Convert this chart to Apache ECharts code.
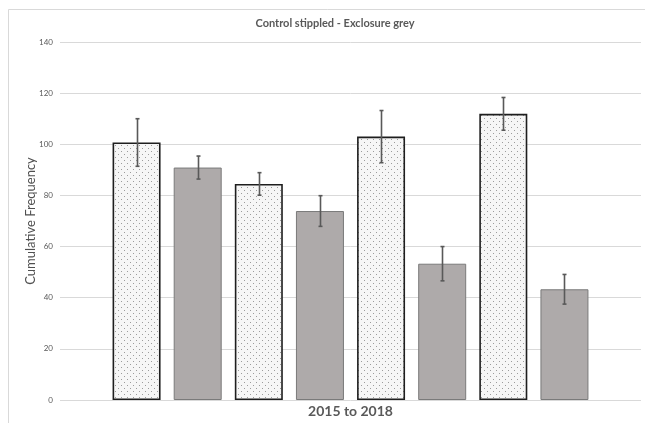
<!DOCTYPE html>
<html>
<head>
<meta charset="utf-8">
<script src="https://cdn.jsdelivr.net/npm/echarts@6/dist/echarts.min.js"></script>
<style>
  html, body { margin: 0; padding: 0; background: #ffffff; }
  #chart { width: 645px; height: 423px; }
</style>
</head>
<body>
<div id="chart"></div>
<script>
// Cumulative frequency per year, control plots vs. exclosure plots
const groupLabel = ['2015 to 2018'];
const barNames = [
  'Control 2015', 'Exclosure 2015',
  'Control 2016', 'Exclosure 2016',
  'Control 2017', 'Exclosure 2017',
  'Control 2018', 'Exclosure 2018'
];
const barKinds = ['control', 'exclosure', 'control', 'exclosure', 'control', 'exclosure', 'control', 'exclosure'];
const barValues = [100.7, 90.9, 84.5, 73.9, 103.0, 53.3, 111.9, 43.3];
const barErrors = [9.3, 4.5, 4.4, 6.0, 10.2, 6.7, 6.4, 5.8];
const yTicks = { min: 0, max: 140, interval: 20 };

const FONT = 'Lato, "Open Sans", sans-serif';

// stipple fill: light ground with a staggered grid of small grey dots
function makeStipple() {
  const c = document.createElement('canvas');
  c.width = 6; c.height = 6;
  const g = c.getContext('2d');
  g.fillStyle = '#f6f6f6';
  g.fillRect(0, 0, 6, 6);
  g.fillStyle = '#9c9c9c';
  g.fillRect(1, 1, 1, 1);
  g.fillRect(4, 4, 1, 1);
  return c;
}
const stipple = { image: makeStipple(), repeat: 'repeat' };

const styles = {
  control: { color: stipple, borderColor: '#1e1e1e', borderWidth: 1.6 },
  exclosure: { color: '#aeaaaa', borderColor: '#7a7a7a', borderWidth: 1 }
};

const barData = barValues.map((v, i) => ({
  value: v,
  itemStyle: styles[barKinds[i]]
}));
const errData = barValues.map((v, i) => [i, v - barErrors[i], v + barErrors[i]]);

const chart = echarts.init(document.getElementById('chart'));
chart.setOption({
  backgroundColor: '#ffffff',
  animation: false,
  title: {
    text: 'Control stippled - Exclosure grey',
    left: 330,
    textAlign: 'center',
    top: 13,
    textStyle: { fontFamily: FONT, fontSize: 11, fontWeight: 'bold', color: '#595959' }
  },
  graphic: [{
    type: 'rect',
    shape: { x: 8.5, y: 9.5, width: 700, height: 500 },
    style: { fill: 'none', stroke: '#d9d9d9', lineWidth: 1 },
    silent: true, z: -1
  }],
  grid: [
    { left: 60, right: 4, top: 42, bottom: 23 },
    { left: 106, right: 50, top: 42, bottom: 23 }
  ],
  xAxis: [
    {
      type: 'category', gridIndex: 0, data: groupLabel,
      axisLine: { show: false }, axisTick: { show: false },
      axisLabel: { fontFamily: FONT, fontSize: 14, fontWeight: 'bold', color: '#595959', margin: 4 }
    },
    {
      type: 'category', gridIndex: 1, data: barNames,
      axisLine: { show: false }, axisTick: { show: false }, axisLabel: { show: false }
    }
  ],
  yAxis: [
    {
      type: 'value', gridIndex: 0,
      min: yTicks.min, max: yTicks.max, interval: yTicks.interval,
      name: 'Cumulative Frequency', nameLocation: 'middle', nameGap: 23,
      nameMoveOverlap: false,
      nameTextStyle: { fontFamily: FONT, fontSize: 13, color: '#505050' },
      axisLine: { show: false }, axisTick: { show: false },
      axisLabel: { fontFamily: FONT, fontSize: 8, color: '#595959', margin: 7 },
      splitLine: { lineStyle: { color: '#d9d9d9', width: 1 } }
    },
    {
      type: 'value', gridIndex: 1,
      min: yTicks.min, max: yTicks.max, interval: yTicks.interval,
      axisLine: { show: false }, axisTick: { show: false },
      axisLabel: { show: false }, splitLine: { show: false }
    }
  ],
  series: [
    {
      type: 'bar', xAxisIndex: 1, yAxisIndex: 1,
      barWidth: 48, data: barData
    },
    {
      type: 'custom', xAxisIndex: 1, yAxisIndex: 1,
      data: errData, z: 10,
      renderItem: function (params, api) {
        const lo = api.coord([api.value(0), api.value(1)]);
        const hi = api.coord([api.value(0), api.value(2)]);
        const x = Math.round(lo[0]) + 0.5;
        const cap = 2;
        const st = { stroke: '#595959', lineWidth: 1.6 };
        return {
          type: 'group',
          children: [
            { type: 'line', shape: { x1: x, y1: hi[1], x2: x, y2: lo[1] }, style: st },
            { type: 'line', shape: { x1: x - cap, y1: hi[1], x2: x + cap, y2: hi[1] }, style: st },
            { type: 'line', shape: { x1: x - cap, y1: lo[1], x2: x + cap, y2: lo[1] }, style: st }
          ]
        };
      }
    }
  ]
});
</script>
</body>
</html>
